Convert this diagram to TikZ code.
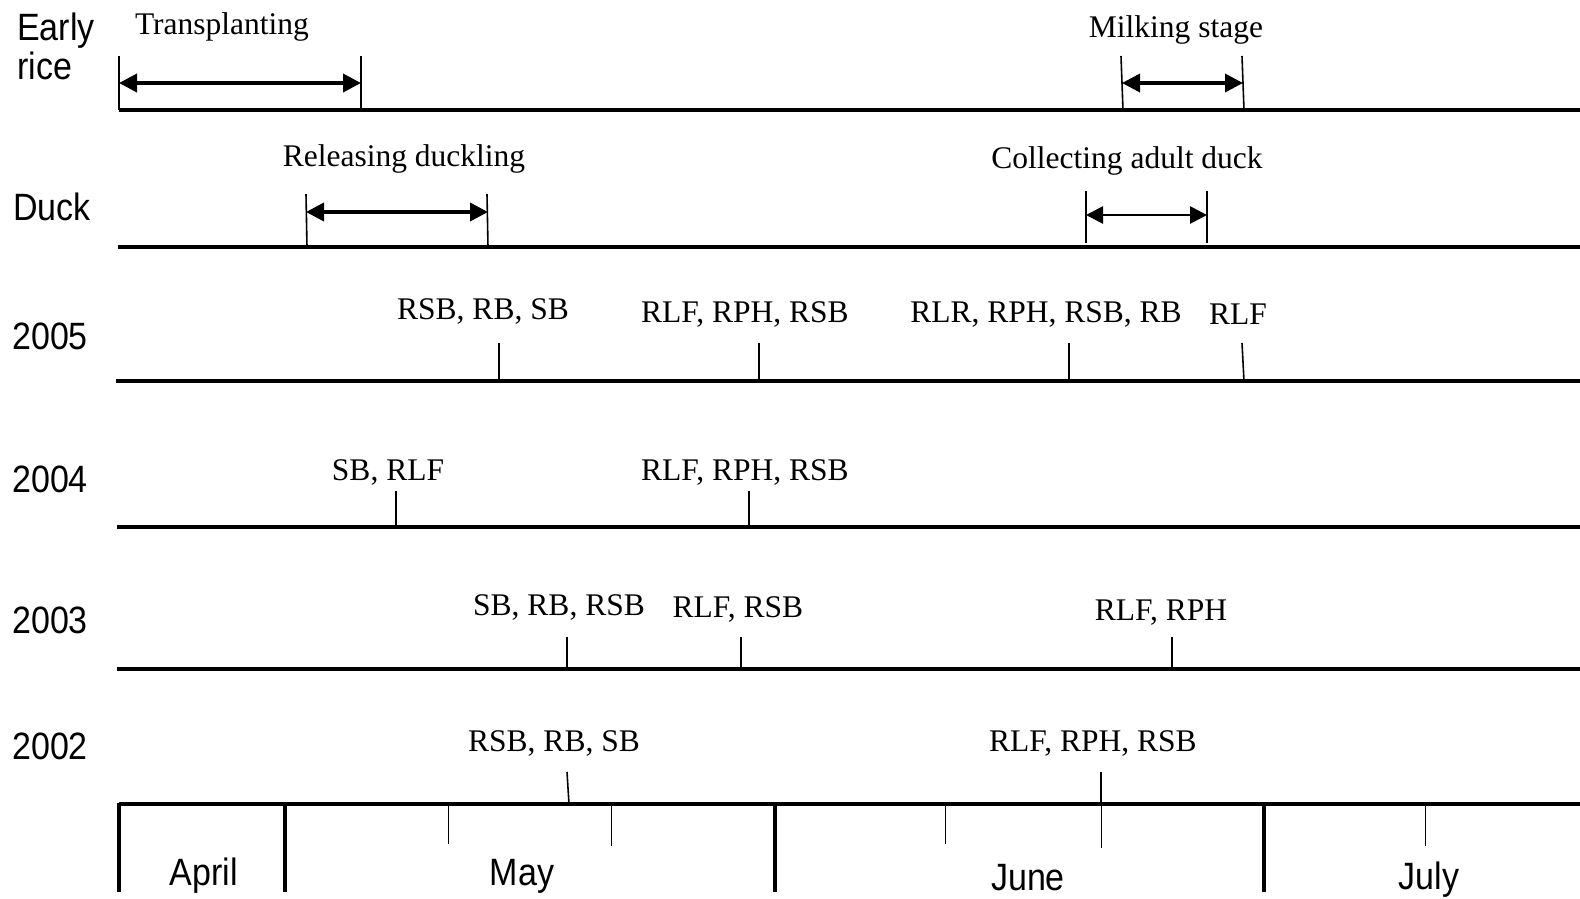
\documentclass[tikz,border=0pt]{standalone}
\usepackage{fontspec}
\usetikzlibrary{arrows.meta}
\newfontfamily\lsans{Liberation Sans}
\newfontfamily\lserif{Liberation Serif}
\newcommand{\tall}[1]{\scalebox{1}[1.12]{#1}}
\begin{document}
\begin{tikzpicture}[x=1pt,y=-1pt,
  baseln/.style={line width=3.6pt},
  tickmark/.style={line width=1.6pt},
  minortick/.style={line width=0.9pt},
  monthtick/.style={line width=3.2pt},
  span/.style={line width=3.6pt,{Triangle[length=18pt,width=18pt]}-{Triangle[length=18pt,width=18pt]}},
  thinspan/.style={line width=2.8pt,{Triangle[length=17pt,width=17pt]}-{Triangle[length=17pt,width=17pt]}},
  lab/.style={font=\lserif\fontsize{31.5}{33}\selectfont,inner sep=0pt},
  rowlab/.style={font=\lsans\fontsize{34}{41}\selectfont,inner sep=0pt,anchor=west},
  month/.style={font=\lsans\fontsize{34}{36}\selectfont,inner sep=0pt}]
\useasboundingbox[fill=white] (0,0) rectangle (1580,898);

% ---------- row labels ----------
\node[rowlab,align=left] (lrice) at (17,46) {\tall{Early}\\[-2pt]\tall{rice}};
\node[rowlab] (lduck) at (13,207) {\tall{Duck}};
\node[rowlab] (l2005) at (12,336) {\tall{2005}};
\node[rowlab] (l2004) at (12,479) {\tall{2004}};
\node[rowlab] (l2003) at (12,620) {\tall{2003}};
\node[rowlab] (l2002) at (12,746) {\tall{2002}};

% ---------- Early rice ----------
\coordinate (r0) at (119,110); \coordinate (r1) at (1580,110);
\draw[baseln] (r0) -- (r1);
\coordinate (tpA) at (119,56);  \coordinate (tpAb) at (119,110);
\coordinate (tpB) at (361,56);  \coordinate (tpBb) at (361,110);
\draw[tickmark] (tpA) -- (tpAb);
\draw[tickmark] (tpB) -- (tpBb);
\coordinate (tpL) at (119,83); \coordinate (tpR) at (361,83);
\draw[span] (tpL) -- (tpR);
\node[lab] (transpl) at (222,27) {Transplanting};

\coordinate (mkA) at (1121,56); \coordinate (mkAb) at (1123,110);
\coordinate (mkB) at (1242,56); \coordinate (mkBb) at (1244,110);
\draw[tickmark] (mkA) -- (mkAb);
\draw[tickmark] (mkB) -- (mkBb);
\coordinate (mkL) at (1122,83); \coordinate (mkR) at (1243,83);
\draw[span] (mkL) -- (mkR);
\node[lab] (milk) at (1176,30) {Milking stage};

% ---------- Duck ----------
\coordinate (d0) at (118,247); \coordinate (d1) at (1580,247);
\draw[baseln] (d0) -- (d1);
\coordinate (rlA) at (306,194); \coordinate (rlAb) at (307,247);
\coordinate (rlB) at (487,194); \coordinate (rlBb) at (488,247);
\draw[tickmark] (rlA) -- (rlAb);
\draw[tickmark] (rlB) -- (rlBb);
\coordinate (rlL) at (306,212); \coordinate (rlR) at (488,212);
\draw[span] (rlL) -- (rlR);
\node[lab] (release) at (404,159) {Releasing duckling};

\coordinate (clA) at (1086,191); \coordinate (clAb) at (1086,243);
\coordinate (clB) at (1207,191); \coordinate (clBb) at (1207,243);
\draw[tickmark] (clA) -- (clAb);
\draw[tickmark] (clB) -- (clBb);
\coordinate (clL) at (1086,215); \coordinate (clR) at (1207,215);
\draw[thinspan] (clL) -- (clR);
\node[lab] (collect) at (1127,161) {Collecting adult duck};

% ---------- 2005 ----------
\coordinate (y5a) at (116,381); \coordinate (y5b) at (1580,381);
\draw[baseln] (y5a) -- (y5b);
\foreach \x/\n in {499/a,759/b,1069/c}{
  \coordinate (t5\n) at (\x,343); \coordinate (t5\n b) at (\x,381);
  \draw[tickmark] (t5\n) -- (t5\n b);}
\coordinate (t5d) at (1242,343); \coordinate (t5db) at (1244,381);
\draw[tickmark] (t5d) -- (t5db);
\node[lab] (e5a) at (483,311) {RSB, RB, SB};
\node[lab] (e5b) at (745,314) {RLF, RPH, RSB};
\node[lab] (e5c) at (1046,314) {RLR, RPH, RSB, RB};
\node[lab] (e5d) at (1238,314) {RLF};

% ---------- 2004 ----------
\coordinate (y4a) at (117,527); \coordinate (y4b) at (1580,527);
\draw[baseln] (y4a) -- (y4b);
\foreach \x/\n in {396/a,749/b}{
  \coordinate (t4\n) at (\x,491); \coordinate (t4\n b) at (\x,527);
  \draw[tickmark] (t4\n) -- (t4\n b);}
\node[lab] (e4a) at (388,472) {SB, RLF};
\node[lab] (e4b) at (745,472) {RLF, RPH, RSB};

% ---------- 2003 ----------
\coordinate (y3a) at (117,669); \coordinate (y3b) at (1580,669);
\draw[baseln] (y3a) -- (y3b);
\foreach \x/\n in {567/a,741/b,1172/c}{
  \coordinate (t3\n) at (\x,637); \coordinate (t3\n b) at (\x,669);
  \draw[tickmark] (t3\n) -- (t3\n b);}
\node[lab] (e3a) at (559,607) {SB, RB, RSB};
\node[lab] (e3b) at (738,609) {RLF, RSB};
\node[lab] (e3c) at (1161,613) {RLF, RPH};

% ---------- 2002 and month axis ----------
\coordinate (ax0) at (119,804); \coordinate (ax1) at (1580,804);
\draw[baseln] (ax0) -- (ax1);
\coordinate (t2a) at (567,772); \coordinate (t2ab) at (569,804);
\draw[tickmark] (t2a) -- (t2ab);
\coordinate (t2b) at (1101,772); \coordinate (t2bb) at (1101,804);
\draw[tickmark] (t2b) -- (t2bb);
\node[lab] (e2a) at (554,743) {RSB, RB, SB};
\node[lab] (e2b) at (1093,743) {RLF, RPH, RSB};

% month boundaries
\foreach \x/\n in {119/a,285/b,775/c,1264/d}{
  \coordinate (mb\n) at (\x,803); \coordinate (mb\n b) at (\x,892);
  \draw[monthtick] (mb\n) -- (mb\n b);}
% weekly marks
\foreach \x/\n/\l in {448/a/844,611/b/846,945/c/844,1101/d/848,1425/e/846}{
  \coordinate (wk\n) at (\x,804); \coordinate (wk\n b) at (\x,\l);
  \draw[minortick] (wk\n) -- (wk\n b);}

\node[month] (apr) at (204,876) {\tall{April}};
\node[month] (may) at (522,876) {\tall{May}};
\node[month] (jun) at (1028,878) {\tall{June}};
\node[month] (jul) at (1429,880) {\tall{July}};
\end{tikzpicture}
\end{document}
